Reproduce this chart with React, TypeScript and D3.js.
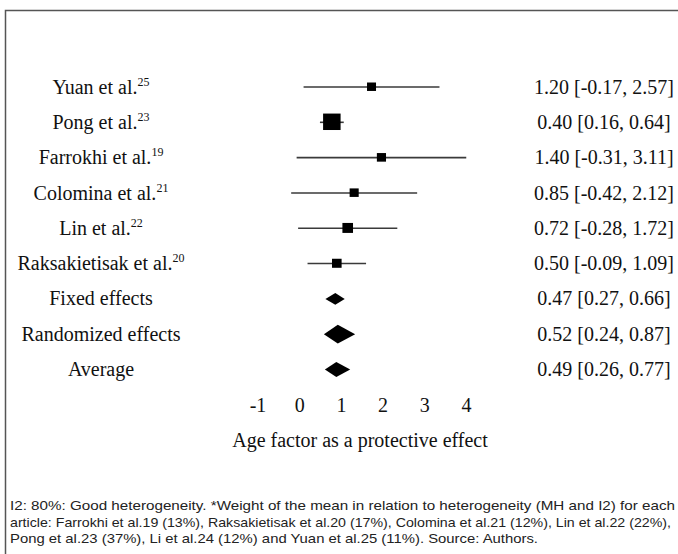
import React from "react";
import * as d3 from "d3";

const studyNames = ["Yuan et al.", "Pong et al.", "Farrokhi et al.", "Colomina et al.", "Lin et al.", "Raksakietisak et al."];
const studyRefs = ["25", "23", "19", "21", "22", "20"];
const studyEstimates = [1.2, 0.4, 1.4, 0.85, 0.72, 0.5];
const studyLower = [-0.17, 0.16, -0.31, -0.42, -0.28, -0.09];
const studyUpper = [2.57, 0.64, 3.11, 2.12, 1.72, 1.09];
const studyWeights = [11, 37, 13, 12, 22, 17];

const summaryNames = ["Fixed effects", "Randomized effects", "Average"];
const summaryEstimates = [0.47, 0.52, 0.49];
const summaryLower = [0.27, 0.24, 0.26];
const summaryUpper = [0.66, 0.87, 0.77];

const tickValues = [-1, 0, 1, 2, 3, 4];
const axisTitle = "Age factor as a protective effect";

const footnoteLines = [
  "I2: 80%: Good heterogeneity. *Weight of the mean in relation to heterogeneity (MH and I2) for each",
  "article: Farrokhi et al.19 (13%), Raksakietisak et al.20 (17%), Colomina et al.21 (12%), Lin et al.22 (22%),",
  "Pong et al.23 (37%), Li et al.24 (12%) and Yuan et al.25 (11%). Source: Authors.",
];

const W = 678;
const H = 554;
const SERIF = "'Liberation Serif', 'Times New Roman', serif";
const SANS = "'Liberation Sans', Arial, sans-serif";

export default function App() {
  const nRows = studyNames.length + summaryNames.length;
  const y = d3.scaleLinear().domain([0, nRows - 1]).range([87, 369.5]);
  // position of estimates / intervals
  const x = d3.scaleLinear().domain([0, 1]).range([312, 361.6]);
  // axis label positions as printed under the plot
  const xTicks = d3.scaleLinear().domain([-1, 4]).range([258, 466.5]);
  const size = d3.scalePow().exponent(3).domain([11, 37]).range([9, 17.5]);

  const labelX = 101;
  const valueX = 604;
  const fmt = (v: number) => v.toFixed(2);
  const ciText = (e: number, l: number, u: number) => `${fmt(e)} [${fmt(l)}, ${fmt(u)}]`;

  const diamond = (e: number, l: number, u: number, cy: number) => {
    const x0 = x(l), x1 = x(u), xc = x(e);
    const h = (x1 - x0) * 0.6;
    const p = d3.path();
    p.moveTo(x0, cy);
    p.lineTo(xc, cy - h / 2);
    p.lineTo(x1, cy);
    p.lineTo(xc, cy + h / 2);
    p.closePath();
    return p.toString();
  };

  const footWidths = [665, 661, 528];

  return (
    <svg width={W} height={H} style={{ position: "absolute", left: 0, top: 0, background: "#fff" }}>
      <rect x={0} y={0} width={W} height={H} fill="#fff" />
      {/* frame */}
      <path d={`M5.5,${H + 5} L5.5,10.5 L${W + 5},10.5`} fill="none" stroke="#555" strokeWidth={1.5} />

      {studyNames.map((name, i) => {
        const cy = y(i);
        const s = size(studyWeights[i]);
        return (
          <g key={name}>
            <text x={labelX} y={cy} dy="0.33em" textAnchor="middle" fontFamily={SERIF} fontSize={20} fill="#111">
              {name}
              <tspan fontSize={12} dy={-8}>{studyRefs[i]}</tspan>
            </text>
            <line x1={x(studyLower[i])} x2={x(studyUpper[i])} y1={cy} y2={cy} stroke="#3a3a3a" strokeWidth={1.6} />
            <rect x={x(studyEstimates[i]) - s / 2} y={cy - s / 2} width={s} height={s * 0.94} fill="#000" />
            <text x={valueX} y={cy} dy="0.33em" textAnchor="middle" fontFamily={SERIF} fontSize={20} fill="#111">
              {ciText(studyEstimates[i], studyLower[i], studyUpper[i])}
            </text>
          </g>
        );
      })}

      {summaryNames.map((name, j) => {
        const cy = y(studyNames.length + j);
        return (
          <g key={name}>
            <text x={labelX} y={cy} dy="0.33em" textAnchor="middle" fontFamily={SERIF} fontSize={20} fill="#111">
              {name}
            </text>
            <path d={diamond(summaryEstimates[j], summaryLower[j], summaryUpper[j], cy)} fill="#000" />
            <text x={valueX} y={cy} dy="0.33em" textAnchor="middle" fontFamily={SERIF} fontSize={20} fill="#111">
              {ciText(summaryEstimates[j], summaryLower[j], summaryUpper[j])}
            </text>
          </g>
        );
      })}

      {tickValues.map((t) => (
        <text key={t} x={xTicks(t)} y={405} dy="0.33em" textAnchor="middle" fontFamily={SERIF} fontSize={20} fill="#111">
          {String(t)}
        </text>
      ))}
      <text x={360} y={440} dy="0.33em" textAnchor="middle" fontFamily={SERIF} fontSize={20} fill="#111">
        {axisTitle}
      </text>

      {footnoteLines.map((line, k) => (
        <text
          key={k}
          x={10}
          y={510 + k * 16.6}
          fontFamily={SANS}
          fontSize={13.5}
          fill="#222"
          textLength={footWidths[k]}
          lengthAdjust="spacingAndGlyphs"
        >
          {line}
        </text>
      ))}
    </svg>
  );
}
